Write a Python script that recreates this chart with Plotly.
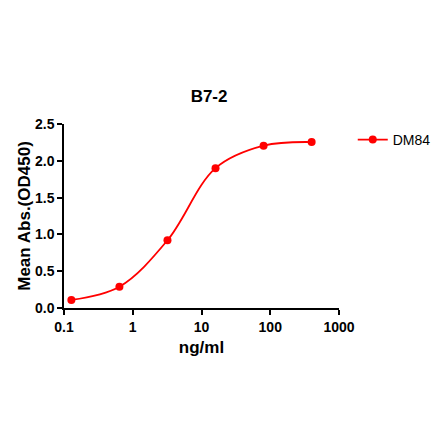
import plotly.graph_objects as go

# concentrations (ng/ml) and mean absorbance readings
conc = [0.128, 0.64, 3.2, 16, 80, 400]
od450 = [0.11, 0.29, 0.92, 1.90, 2.205, 2.255]

x_ticks = [0.1, 1, 10, 100, 1000]
x_tick_text = ["0.1", "1", "10", "100", "1000"]
y_ticks = [0.0, 0.5, 1.0, 1.5, 2.0, 2.5]

red = "#FF0000"
bold_font = "Liberation Sans"

fig = go.Figure()

fig.add_trace(
    go.Scatter(
        x=conc, y=od450, mode="lines+markers", name="DM84",
        line=dict(color=red, width=1.8, shape="spline", smoothing=1.0),
        marker=dict(color=red, size=8),
        cliponaxis=False
    )
)

axis_style = dict(
    showline=True, linecolor="black", linewidth=1.5,
    ticks="outside", ticklen=5, tickwidth=1.5, tickcolor="black",
    showgrid=False, zeroline=False, automargin=False,
    tickfont=dict(family=bold_font, size=14, color="black", weight="bold"),
)

# page body adds an 8px offset, so margins are shifted to compensate
fig.update_layout(
    width=440, height=441,
    paper_bgcolor="white", plot_bgcolor="white",
    margin=dict(l=56, r=109, t=116, b=141),
    title=dict(
        text="<b>B7-2</b>", x=0.457, xanchor="center", y=0.80, yanchor="middle",
        font=dict(family=bold_font, size=17, color="black")
    ),
    xaxis=dict(
        type="log", range=[-1, 3], tickvals=x_ticks, ticktext=x_tick_text,
        title=dict(text="<b>ng/ml</b>", font=dict(family=bold_font, size=17, color="black"), standoff=8),
        **axis_style
    ),
    yaxis=dict(
        range=[0, 2.5], tickvals=y_ticks, tickformat=".1f",
        title=dict(text="<b>Mean Abs.(OD450)</b>", font=dict(family=bold_font, size=17, color="black"), standoff=0),
        **axis_style
    ),
    showlegend=True,
    legend=dict(
        x=1.05, y=1.0, xanchor="left", yanchor="top",
        font=dict(family=bold_font, size=14, color="black"),
        bgcolor="rgba(0,0,0,0)"
    ),
)

fig.write_html("out.html")
